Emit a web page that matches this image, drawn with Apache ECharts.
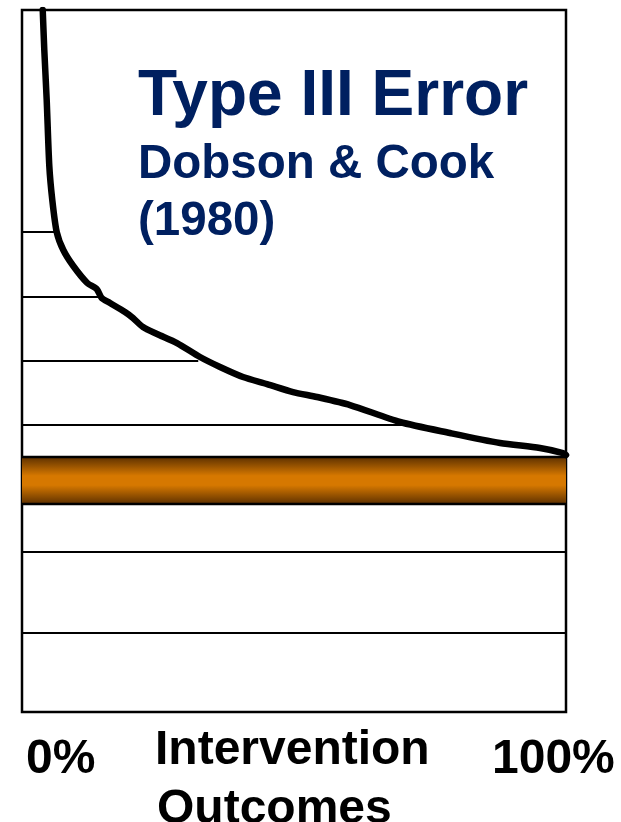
<!DOCTYPE html>
<html>
<head>
<meta charset="utf-8">
<script src="https://cdn.jsdelivr.net/npm/echarts@6/dist/echarts.min.js"></script>
<style>
  html, body { margin: 0; padding: 0; background: #ffffff; }
  #chart { width: 621px; height: 822px; }
</style>
</head>
<body>
<div id="chart"></div>
<script>
// ---- data (x: % of intervention outcomes, y: arbitrary 0..100 scale) ----
const curveX = [3.81, 4.10, 4.54, 5.02, 5.57, 6.38, 7.59, 9.43, 12.00, 13.73, 14.65, 16.18, 18.93, 20.40, 22.24, 24.82, 28.49, 32.72, 36.40, 40.63, 45.04, 49.82, 54.23, 60.29, 69.49, 78.68, 87.87, 95.22, 99.45, 100];
const curveY = [100.0, 94.30, 87.18, 77.78, 72.93, 68.38, 65.81, 63.53, 61.11, 60.26, 58.97, 58.26, 56.98, 56.13, 54.84, 53.85, 52.56, 50.57, 49.15, 47.72, 46.72, 45.58, 44.87, 43.73, 41.31, 39.74, 38.32, 37.61, 36.89, 36.61];
// horizontal rule levels and where each rule ends (x)
const ruleLevels = [68.38, 59.12, 50.0, 40.88, 22.79, 11.25];
const ruleEnds   = [6.3, 14.2, 32.4, 70.0, 100, 100];
// band (threshold) range
const bandRange = [29.63, 36.32];
const titleLines = ['Type III Error', 'Dobson & Cook', '(1980)'];
const xTickLabels = ['0%', '100%'];
const xAxisTitle = ['Intervention', 'Outcomes'];

const FONT = "'Liberation Sans', Arial, Helvetica, sans-serif";
const chart = echarts.init(document.getElementById('chart'), null, { renderer: 'canvas' });

const ruleSeries = ruleLevels.map((lv, i) => ({
  type: 'line',
  data: [[0, lv], [ruleEnds[i], lv]],
  symbol: 'none',
  lineStyle: { color: '#000', width: 2 },
  silent: true,
  z: 2
}));

const option = {
  backgroundColor: '#ffffff',
  animation: false,
  grid: { left: 22, right: 55, top: 10, bottom: 110, show: true, borderColor: '#000', borderWidth: 2.5, backgroundColor: 'transparent' },
  xAxis: { type: 'value', min: 0, max: 100, show: false },
  yAxis: { type: 'value', min: 0, max: 100, show: false },
  series: [
    ...ruleSeries,
    {
      type: 'line',
      data: [[0, bandRange[0]], [100, bandRange[0]]],
      symbol: 'none',
      lineStyle: { color: '#000', width: 2.5 },
      z: 4,
      markArea: {
        silent: true,
        itemStyle: {
          color: new echarts.graphic.LinearGradient(0, 0, 0, 1, [
            { offset: 0, color: '#5e3100' },
            { offset: 0.4, color: '#d67800' },
            { offset: 0.6, color: '#d67800' },
            { offset: 1, color: '#5e3100' }
          ])
        },
        data: [[{ yAxis: bandRange[0] }, { yAxis: bandRange[1] }]]
      }
    },
    {
      type: 'line',
      data: [[0, bandRange[1]], [100, bandRange[1]]],
      symbol: 'none',
      lineStyle: { color: '#000', width: 2.5 },
      z: 4
    },
    {
      type: 'line',
      data: curveX.map((x, i) => [x, curveY[i]]),
      symbol: 'none',
      smooth: 0.25,
      clip: true,
      lineStyle: { color: '#000', width: 6.5, cap: 'round', join: 'round' },
      z: 5
    }
  ],
  graphic: [
    { type: 'text', left: 138, top: 65, style: { text: titleLines[0], font: 'bold 64px ' + FONT, fill: '#002060' } },
    { type: 'text', left: 138, top: 141, style: { text: titleLines[1], font: 'bold 47.5px ' + FONT, fill: '#002060' } },
    { type: 'text', left: 138, top: 198, style: { text: titleLines[2], font: 'bold 47.5px ' + FONT, fill: '#002060' } },
    { type: 'text', left: 26, top: 736, style: { text: xTickLabels[0], font: 'bold 48px ' + FONT, fill: '#000' } },
    { type: 'text', left: 492, top: 736, style: { text: xTickLabels[1], font: 'bold 48px ' + FONT, fill: '#000' } },
    { type: 'text', left: 155, top: 727, style: { text: xAxisTitle[0], font: 'bold 48px ' + FONT, fill: '#000' } },
    { type: 'text', left: 157, top: 786, style: { text: xAxisTitle[1], font: 'bold 48px ' + FONT, fill: '#000' } }
  ]
};
chart.setOption(option);
</script>
</body>
</html>
